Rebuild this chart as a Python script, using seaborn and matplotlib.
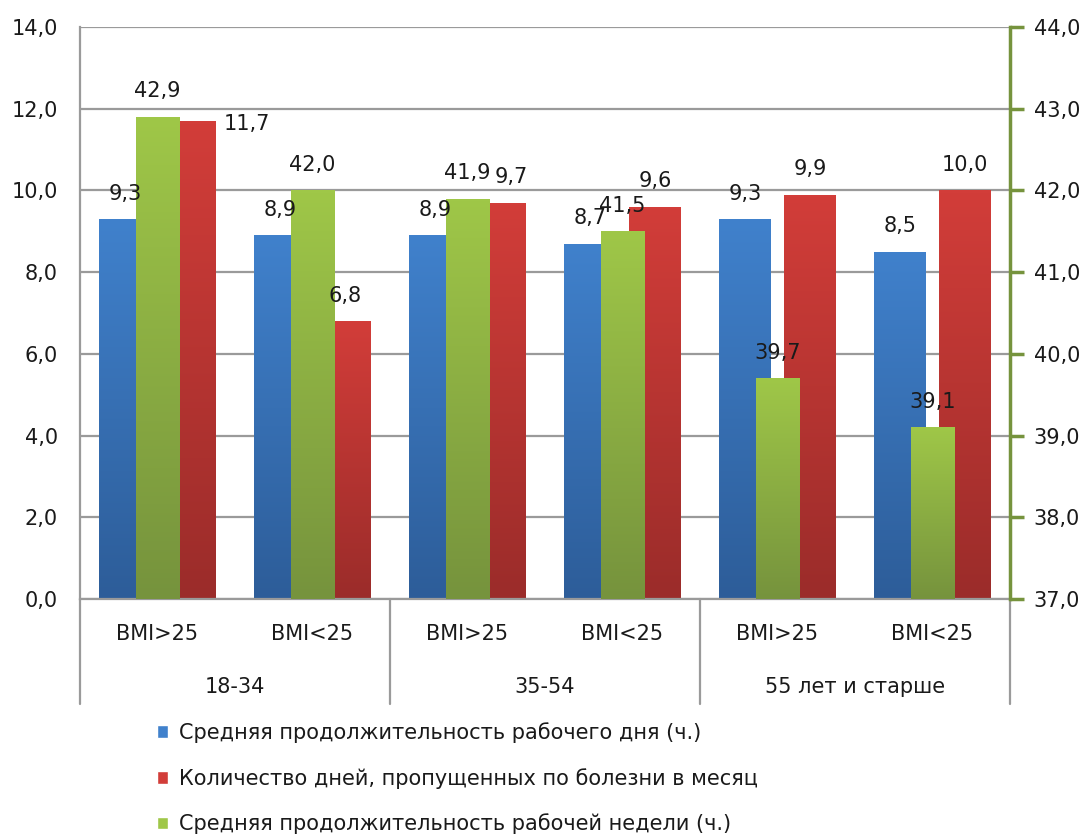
import numpy as np
import pandas as pd
import matplotlib
matplotlib.use("Agg")
import matplotlib.pyplot as plt
import matplotlib.transforms as mtransforms
from matplotlib.colors import LinearSegmentedColormap
from matplotlib.patches import Patch
from matplotlib.lines import Line2D
from matplotlib.ticker import FuncFormatter, MultipleLocator
import seaborn as sns

# ---- data ----
age_groups = ["18-34", "35-54", "55 лет и старше"]
bmi_groups = ["BMI>25", "BMI<25"]
workday_hours = [9.3, 8.9, 8.9, 8.7, 9.3, 8.5]      # primary axis
sick_days = [11.7, 6.8, 9.7, 9.6, 9.9, 10.0]         # primary axis
workweek_hours = [42.9, 42.0, 41.9, 41.5, 39.7, 39.1]  # secondary axis

name_day = "Средняя продолжительность рабочего дня (ч.)"
name_sick = "Количество дней, пропущенных по болезни в месяц"
name_week = "Средняя продолжительность рабочей недели (ч.)"

# ---- styling ----
sns.set_style("white")
plt.rcParams["font.family"] = ["DejaVu Sans"]
TXT = "#1a1a1a"
GRID = "#9a9a9a"
BLUE = ("#4081cc", "#2d5d99")
RED = ("#d23d39", "#9b2c2a")
GREEN = ("#9fc748", "#76933d")
FS = 15
# horizontal nudge (points) for the sick-day labels, to keep them clear of neighbours
SICK_LABEL_DX = [0, 0, 8, 0, 0, 0]
SICK_LABEL_BESIDE = [True, False, False, False, False, False]


def comma(v, _=None):
    return f"{v:.1f}".replace(".", ",")


keys = [f"{a}|{b}" for a in age_groups for b in bmi_groups]
primary = pd.DataFrame({
    "key": keys * 2,
    "series": [name_day] * len(keys) + [name_sick] * len(keys),
    "value": workday_hours + sick_days,
})
secondary = pd.DataFrame({"key": keys, "value": workweek_hours})

fig = plt.figure(figsize=(10.85, 8.34), dpi=100)
ax = fig.add_axes([80 / 1085, 1 - 599 / 834, 930 / 1085, 572 / 834])

sns.barplot(data=primary, x="key", y="value", hue="series", order=keys,
            hue_order=[name_day, name_sick], palette=[BLUE[0], RED[0]],
            width=0.84, gap=0.21, linewidth=0, legend=False, ax=ax)

ax2 = ax.twinx()
sns.barplot(data=secondary, x="key", y="value", order=keys, color=GREEN[0],
            width=0.28, linewidth=0, ax=ax2)

P_LIM = (0, 14)
S_LIM = (37, 44)


def shade(axis, patch, top, bottom, ymin):
    """Vertical light-to-dark fill clipped to the bar."""
    x0, y0 = patch.get_x(), patch.get_y()
    w, h = patch.get_width(), patch.get_height()
    lo, hi = max(y0, ymin), y0 + h
    cmap = LinearSegmentedColormap.from_list("bar", [bottom, top])
    grad = np.linspace(0, 1, 128).reshape(-1, 1)
    im = axis.imshow(grad, cmap=cmap, origin="lower", aspect="auto",
                     extent=(x0, x0 + w, lo, hi), interpolation="bilinear",
                     zorder=patch.get_zorder() + 0.1)
    im.set_clip_path(patch)


for cont, cols in zip(ax.containers, [BLUE, RED]):
    for p in cont:
        shade(ax, p, cols[0], cols[1], P_LIM[0])
for p in ax2.containers[0]:
    shade(ax2, p, GREEN[0], GREEN[1], S_LIM[0])

# ---- axes ----
ax.set_xlim(-0.5, len(keys) - 0.5)
ax2.set_xlim(-0.5, len(keys) - 0.5)
ax.set_ylim(*P_LIM)
ax2.set_ylim(*S_LIM)
ax.yaxis.set_major_locator(MultipleLocator(2))
ax2.yaxis.set_major_locator(MultipleLocator(1))
ax.yaxis.set_major_formatter(FuncFormatter(comma))
ax2.yaxis.set_major_formatter(FuncFormatter(comma))
ax.set_axisbelow(True)
ax.grid(axis="y", color=GRID, lw=1.6)
ax.grid(axis="x", visible=False)
for a in (ax, ax2):
    a.set_xlabel("")
    a.set_ylabel("")
    a.set_xticks([])
ax.tick_params(axis="y", length=0, pad=16, labelsize=FS, labelcolor=TXT)
ax2.tick_params(axis="y", length=10, width=2.5, color=GREEN[1], direction="out",
                pad=7, labelsize=FS, labelcolor=TXT)
for s in ["top", "right"]:
    ax.spines[s].set_visible(False)
for s in ["top", "left", "bottom"]:
    ax2.spines[s].set_visible(False)
for s in ["left", "bottom"]:
    ax.spines[s].set_color(GRID)
    ax.spines[s].set_linewidth(1.6)
ax2.spines["right"].set_color(GREEN[1])
ax2.spines["right"].set_linewidth(2.5)

# ---- two-level category axis ----
xt = mtransforms.blended_transform_factory(ax.transData, ax.transAxes)
for i, k in enumerate(keys):
    ax.text(i, -0.062, k.split("|")[1], transform=xt, ha="center", va="center",
            fontsize=FS, color=TXT)
for g, name in enumerate(age_groups):
    ax.text(2 * g + 0.5, -0.154, name, transform=xt, ha="center", va="center",
            fontsize=FS, color=TXT)
for xb in np.arange(-0.5, len(keys), 2):
    ax.add_line(Line2D([xb, xb], [0, -0.183], transform=xt, color=GRID,
                       lw=1.6, clip_on=False))


# ---- value labels (drawn on the top axes so they sit over all bars) ----
def label(axis_src, patch, value, beside=False, dx=0):
    cx = patch.get_x() + patch.get_width() / 2
    top = patch.get_y() + patch.get_height()
    if beside:
        ax2.annotate(comma(value), (patch.get_x() + patch.get_width(), top),
                     xycoords=axis_src.transData, xytext=(6, -2),
                     textcoords="offset points", ha="left", va="center",
                     fontsize=FS, color=TXT, zorder=10)
    else:
        ax2.annotate(comma(value), (cx, top), xycoords=axis_src.transData,
                     xytext=(dx, 14), textcoords="offset points", ha="center",
                     va="baseline", fontsize=FS, color=TXT, zorder=10)


for p, v in zip(ax.containers[0], workday_hours):
    label(ax, p, v)
for p, v, dx, beside in zip(ax.containers[1], sick_days, SICK_LABEL_DX, SICK_LABEL_BESIDE):
    label(ax, p, v, beside=beside, dx=dx)
for p, v in zip(ax2.containers[0], workweek_hours):
    label(ax2, p, v)

# ---- legend ----
handles = [Patch(facecolor=BLUE[0]), Patch(facecolor=RED[0]), Patch(facecolor=GREEN[0])]
fig.legend(handles, [name_day, name_sick, name_week], loc="upper left",
           bbox_to_anchor=(157 / 1085, 1 - 722 / 834), frameon=False,
           fontsize=FS, handlelength=0.55, handleheight=0.55, handletextpad=0.5,
           labelspacing=1.2, borderpad=0, borderaxespad=0, labelcolor=TXT)

fig.savefig("out.png", dpi=100)
